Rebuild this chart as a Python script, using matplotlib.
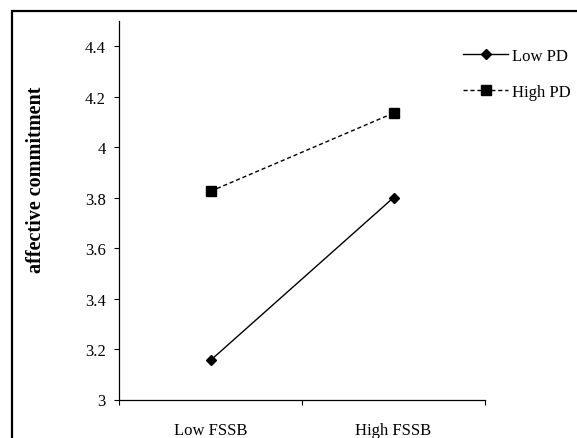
import matplotlib
matplotlib.use("Agg")
import matplotlib.pyplot as plt
from matplotlib.patches import Rectangle

categories = ["Low FSSB", "High FSSB"]
low_pd = [3.155, 3.80]
high_pd = [3.825, 4.135]
series_labels = ["Low PD", "High PD"]
yticks = [3, 3.2, 3.4, 3.6, 3.8, 4, 4.2, 4.4]
ytick_labels = ["3", "3.2", "3.4", "3.6", "3.8", "4", "4.2", "4.4"]

plt.rcParams['font.family'] = ['Liberation Serif', 'DejaVu Serif']

W, H = 577, 439
fig = plt.figure(figsize=(W / 100, H / 100), dpi=100)

# outer frame (right and bottom edges cut off)
fig.patches.append(Rectangle((12 / W, -0.1), 1.2, 1 - 12 / H + 0.1,
                             transform=fig.transFigure, fill=False,
                             edgecolor='black', linewidth=1.6, zorder=0))

ax = fig.add_axes([119 / W, 1 - 400.5 / H, (485 - 119) / W, (400.5 - 22) / H])

xpos = [0.5, 1.5]
ax.plot(xpos, low_pd, color='black', linestyle='-', linewidth=1.0,
        marker='D', markersize=5.5, label=series_labels[0])
ax.plot(xpos, high_pd, color='black', linestyle=(0, (3, 2)), linewidth=1.0,
        marker='s', markersize=7, label=series_labels[1])

ax.set_xlim(0, 2)
ax.set_ylim(3, 4.5)
ax.set_yticks(yticks)
ax.set_yticklabels(ytick_labels)
ax.set_xticks([0, 1, 2])
ax.set_xticklabels([])
ax.set_xticks(xpos, minor=True)
ax.set_xticklabels(categories, minor=True)

ax.spines['top'].set_visible(False)
ax.spines['right'].set_visible(False)
for s in ['left', 'bottom']:
    ax.spines[s].set_linewidth(0.9)

ax.tick_params(axis='both', which='major', direction='out', length=3.6, width=0.8,
               labelsize=12, colors='black')
ax.tick_params(axis='y', which='major', pad=6)
ax.tick_params(axis='x', which='minor', length=0, labelsize=12, pad=16.5)

ax.set_ylabel("affective commitment", fontsize=14.5, fontweight='bold')
ax.yaxis.set_label_coords((36 - 119) / (485 - 119), (400.5 - 179.5) / (400.5 - 22))
ax.yaxis.label.set_va('center')

fig.legend(loc='upper left', bbox_to_anchor=(463 / W, 1 - 49 / H),
           frameon=False, fontsize=12, handlelength=2.7, handletextpad=0.25,
           labelspacing=1.2, borderpad=0, borderaxespad=0)

fig.savefig("out.png", dpi=100)
